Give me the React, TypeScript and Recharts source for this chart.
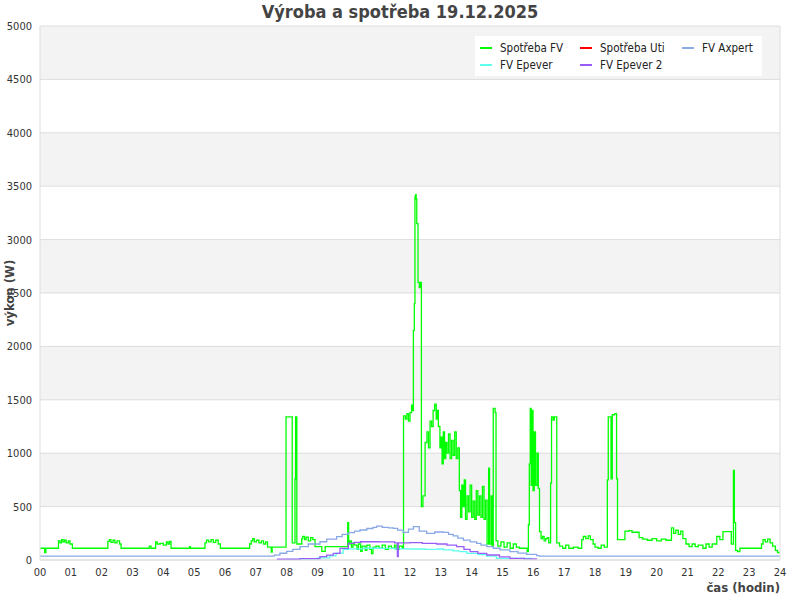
import { LineChart, Line, XAxis, YAxis, CartesianGrid } from "recharts";

// [hodina, W]
const spotrebaFv: [number, number][] = [
  [0, 110], [0.15, 70], [0.19, 110], [0.6, 180], [0.65, 160], [0.7, 190], [0.75, 170], [0.8, 185], [0.85, 160],
  [0.92, 180], [0.97, 150], [1.05, 110], [2.2, 175], [2.25, 190], [2.3, 165], [2.37, 185], [2.43, 160], [2.5, 180],
  [2.58, 150], [2.63, 110], [3.55, 130], [3.6, 110], [3.75, 170], [3.8, 150], [3.9, 155], [4.0, 140], [4.1, 170],
  [4.15, 150], [4.2, 175], [4.25, 110], [4.85, 125], [4.88, 110], [5.35, 160], [5.4, 185], [5.47, 170], [5.55, 190],
  [5.62, 165], [5.7, 185], [5.78, 150], [5.85, 110], [6.8, 150], [6.85, 180], [6.9, 200], [6.95, 170], [7.02, 185],
  [7.1, 160], [7.18, 180], [7.25, 150], [7.32, 170], [7.38, 120], [7.5, 75], [7.53, 120], [7.98, 1340], [8.18, 160],
  [8.27, 760], [8.29, 1340], [8.33, 150], [8.49, 200], [8.52, 220], [8.58, 190], [8.63, 215], [8.7, 180], [8.78, 210],
  [8.85, 190], [8.92, 125], [9.14, 80], [9.25, 125], [9.65, 125], [9.98, 350], [10.01, 150], [10.05, 180], [10.1, 120],
  [10.15, 160], [10.2, 140], [10.28, 100], [10.33, 150], [10.4, 80], [10.45, 130], [10.55, 90], [10.6, 140], [10.7, 100],
  [10.75, 60], [10.8, 120], [10.9, 130], [11.0, 110], [11.1, 140], [11.2, 100], [11.3, 130], [11.4, 110], [11.5, 140],
  [11.55, 100], [11.65, 130], [11.75, 110], [11.79, 1350], [11.85, 1320], [11.9, 1370], [11.95, 1300], [12.0, 1380],
  [12.05, 1450], [12.08, 1400], [12.11, 2150], [12.14, 2400], [12.16, 3400], [12.18, 3420], [12.2, 3380], [12.22, 3150],
  [12.26, 2600], [12.3, 2550], [12.34, 2600], [12.37, 500], [12.42, 600], [12.49, 1100], [12.55, 1200], [12.6, 1050],
  [12.65, 1300], [12.7, 1250], [12.75, 1400], [12.8, 1460], [12.85, 1320], [12.88, 1400], [12.92, 1250], [12.97, 1050],
  [13.0, 1150], [13.04, 900], [13.08, 1200], [13.12, 950], [13.16, 1100], [13.2, 1000], [13.25, 1180], [13.3, 950],
  [13.35, 1120], [13.4, 980], [13.45, 1200], [13.5, 950], [13.55, 1050], [13.6, 650], [13.64, 400], [13.68, 700],
  [13.72, 500], [13.76, 750], [13.8, 380], [13.85, 600], [13.9, 450], [13.95, 700], [14.0, 400], [14.05, 550],
  [14.1, 380], [14.15, 650], [14.2, 420], [14.25, 600], [14.3, 400], [14.35, 690], [14.4, 380], [14.45, 560],
  [14.5, 150], [14.55, 860], [14.58, 150], [14.63, 600], [14.66, 130], [14.7, 1420], [14.76, 1380], [14.79, 180],
  [14.85, 130], [14.95, 170], [15.05, 120], [15.15, 160], [15.25, 110], [15.35, 150], [15.45, 120], [15.55, 110],
  [15.8, 78], [15.84, 330], [15.87, 900], [15.9, 1420], [15.93, 700], [15.96, 1400], [15.99, 650], [16.03, 1200],
  [16.07, 700], [16.12, 1000], [16.16, 670], [16.2, 265], [16.25, 200], [16.3, 220], [16.35, 180], [16.4, 200],
  [16.45, 210], [16.5, 160], [16.56, 720], [16.59, 1340], [16.64, 1310], [16.68, 1340], [16.76, 160], [16.85, 130],
  [16.95, 110], [17.05, 140], [17.15, 110], [17.3, 120], [17.45, 110], [17.57, 190], [17.62, 220], [17.7, 200],
  [17.78, 225], [17.85, 190], [17.94, 150], [18.0, 120], [18.1, 110], [18.2, 140], [18.3, 120], [18.4, 750],
  [18.43, 1340], [18.52, 760], [18.56, 1360], [18.64, 1370], [18.7, 760], [18.73, 190], [18.97, 270], [19.1, 275],
  [19.2, 260], [19.43, 210], [19.55, 195], [19.7, 185], [19.85, 200], [20.0, 180], [20.15, 195], [20.3, 185],
  [20.48, 300], [20.55, 250], [20.62, 280], [20.7, 240], [20.78, 270], [20.85, 200], [20.95, 150], [21.05, 125],
  [21.15, 150], [21.25, 125], [21.35, 140], [21.5, 110], [21.6, 150], [21.7, 120], [21.8, 150], [21.95, 220],
  [22.05, 190], [22.15, 265], [22.3, 265], [22.42, 150], [22.49, 840], [22.52, 350], [22.56, 90], [22.62, 78],
  [22.7, 110], [23.4, 150], [23.45, 190], [23.52, 170], [23.6, 195], [23.68, 160], [23.76, 130], [23.85, 90],
  [23.92, 70], [24, 70],
];

const spotrebaUti: [number, number][] = [];

const fvAxpert: [number, number][] = [
  [0, 37], [7.5, 37], [7.6, 45], [7.78, 63], [8.0, 80], [8.2, 100], [8.43, 125], [8.7, 150], [9.08, 171], [9.3, 195],
  [9.62, 218], [9.8, 240], [10.0, 256], [10.2, 270], [10.38, 281], [10.6, 295], [10.8, 305], [10.92, 318], [11.1, 305],
  [11.3, 300], [11.46, 296], [11.6, 280], [11.78, 259], [11.95, 290], [12.11, 312], [12.3, 270], [12.54, 250],
  [12.8, 262], [13.08, 259], [13.25, 240], [13.4, 225], [13.55, 205], [13.73, 187], [13.95, 170], [14.16, 156],
  [14.3, 140], [14.49, 125], [14.7, 110], [14.92, 94], [15.24, 78], [15.5, 65], [15.78, 53], [16.11, 41], [16.2, 37],
  [24, 37],
];

const fvEpever: [number, number][] = [
  [8.0, 5], [8.5, 10], [9.0, 20], [9.4, 40], [9.6, 65], [9.83, 100], [10.0, 105], [10.5, 110], [11.0, 108],
  [11.5, 105], [12.0, 103], [12.5, 100], [12.9, 103], [13.08, 94], [13.4, 85], [13.6, 78], [13.84, 62], [14.2, 50],
  [14.49, 37], [14.8, 16], [15.95, 16],
];

const fvEpever2: [number, number][] = [
  [7.68, 7], [8.43, 12], [9.08, 31], [9.3, 45], [9.51, 62], [9.73, 109], [10.0, 156], [10.2, 165], [10.4, 171],
  [11.0, 170], [11.5, 160], [11.59, 31], [11.62, 160], [12.0, 162], [12.4, 155], [12.86, 150], [13.2, 140],
  [13.51, 125], [13.75, 100], [13.95, 78], [14.2, 62], [14.49, 47], [14.9, 30], [15.24, 16], [15.7, 10], [16.1, 7],
];

const hourTicks = [0, 1, 2, 3, 4, 5, 6, 7, 8, 9, 10, 11, 12, 13, 14, 15, 16, 17, 18, 19, 20, 21, 22, 23, 24];
const wattTicks = [0, 500, 1000, 1500, 2000, 2500, 3000, 3500, 4000, 4500, 5000];

const series = [
  { name: "Spotřeba FV", color: "#00ff00", points: spotrebaFv },
  { name: "Spotřeba Uti", color: "#ff0000", points: spotrebaUti },
  { name: "FV Axpert", color: "#88a8e6", points: fvAxpert },
  { name: "FV Epever", color: "#5ffff0", points: fvEpever },
  { name: "FV Epever 2", color: "#9a5cf6", points: fvEpever2 },
];

const font = '"DejaVu Sans Condensed", "DejaVu Sans", sans-serif';
const legendPos = [
  [480, 48], [580, 48], [682, 48],
  [480, 65], [580, 65],
];

export default function App() {
  return (
    <div style={{ position: "absolute", left: 0, top: 0, width: 800, height: 600, background: "#fff", fontFamily: font }}>
      <LineChart width={800} height={600} margin={{ top: 26, right: 0, bottom: 0, left: 0 }}>
        <CartesianGrid horizontalFill={["#f3f3f3", "#ffffff"]} fillOpacity={1} stroke="#dddddd" vertical={false} />
        <XAxis
          dataKey="t"
          type="number"
          domain={[0, 24]}
          ticks={hourTicks}
          tickFormatter={(h: number) => String(h).padStart(2, "0")}
          height={40}
          tickLine={false}
          axisLine={{ stroke: "#dddddd" }}
          tick={{ fill: "#333", fontSize: 11, fontFamily: font }}
        />
        <YAxis
          type="number"
          domain={[0, 5000]}
          ticks={wattTicks}
          width={40}
          tickLine={false}
          axisLine={{ stroke: "#dddddd" }}
          tick={{ fill: "#333", fontSize: 11, fontFamily: font }}
        />
        <YAxis yAxisId="r" orientation="right" width={20} domain={[0, 5000]} tick={false} tickLine={false} axisLine={{ stroke: "#dddddd" }} />
        {series.map((s) => (
          <Line
            key={s.name}
            name={s.name}
            data={s.points.map(([t, w]) => ({ t, w }))}
            dataKey="w"
            type="stepAfter"
            stroke={s.color}
            strokeWidth={1.3}
            dot={false}
            isAnimationActive={false}
          />
        ))}
      </LineChart>

      <div style={{ position: "absolute", left: 0, top: 1, width: 800, textAlign: "center", fontSize: 18, fontWeight: "bold", color: "#444" }}>
        Výroba a spotřeba 19.12.2025
      </div>
      <div style={{ position: "absolute", left: 9, top: 293, transform: "translate(-50%, -50%) rotate(-90deg)", whiteSpace: "nowrap", fontSize: 13, fontWeight: "bold", color: "#444" }}>
        výkon (W)
      </div>
      <div style={{ position: "absolute", right: 20, top: 580, fontSize: 13, fontWeight: "bold", color: "#444" }}>
        čas (hodin)
      </div>

      <div style={{ position: "absolute", left: 475, top: 36, width: 287, height: 40, background: "#fff" }} />
      {series.map((s, i) => (
        <div key={s.name} style={{ position: "absolute", left: legendPos[i][0], top: legendPos[i][1] - 7, height: 14, display: "flex", alignItems: "center", fontSize: 11.5, color: "#222" }}>
          <span style={{ display: "inline-block", width: 12, height: 2, background: s.color, marginRight: 8 }} />
          {s.name}
        </div>
      ))}
    </div>
  );
}
